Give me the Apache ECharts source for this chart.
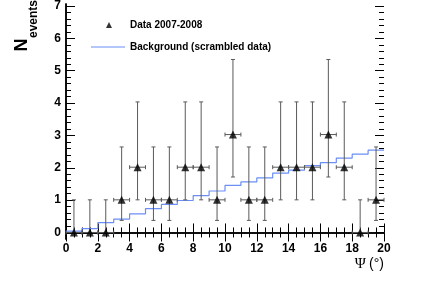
<!DOCTYPE html>
<html>
<head>
<meta charset="utf-8">
<script src="https://cdn.jsdelivr.net/npm/echarts@6/dist/echarts.min.js"></script>
<style>
html,body{margin:0;padding:0;background:#fff;}
#c{width:441px;height:287px;}
</style>
</head>
<body>
<div id="c"></div>
<script>
// Bin centres (Psi, degrees)
var binCenters = [0.5,1.5,2.5,3.5,4.5,5.5,6.5,7.5,8.5,9.5,10.5,11.5,12.5,13.5,14.5,15.5,16.5,17.5,18.5,19.5];
// Observed events per bin
var dataCounts = [0,0,0,1,2,1,1,2,2,1,3,1,1,2,2,2,3,2,0,1];
// Lower and upper ends of the vertical error bars
var errLower = [0,0,0,0.37,1.0,0.37,0.37,1.0,1.0,0.37,1.7,0.37,0.37,1.0,1.0,1.0,1.7,1.0,0,0.37];
var errUpper = [1.0,1.0,1.0,2.62,4.0,2.62,2.62,4.0,4.0,2.62,5.3,2.62,2.62,4.0,4.0,4.0,5.3,4.0,1.0,2.62];
// Background (scrambled data) histogram: bin lower edges and contents
var bgEdges = [0,1,2,3,4,5,6,7,8,9,10,11,12,13,14,15,16,17,18,19,20];
var bgValues = [0.04,0.12,0.30,0.41,0.57,0.73,0.86,0.98,1.13,1.27,1.44,1.55,1.67,1.82,1.91,2.05,2.14,2.28,2.40,2.52];
// Axis ticks
var xTicks = [0,2,4,6,8,10,12,14,16,18,20];
var yTicks = [0,1,2,3,4,5,6,7];

var dataName = 'Data 2007-2008';
var bgName = 'Background (scrambled data)';
var bgColor = '#6b8ff5';

var scatterData = binCenters.map(function(x,i){ return [x, dataCounts[i]]; });
var errData = binCenters.map(function(x,i){ return [x, dataCounts[i], errLower[i], errUpper[i]]; });
var bgData = bgEdges.map(function(x,i){ return [x, bgValues[Math.min(i, bgValues.length-1)]]; });

var labelFont = {color:'#000', fontFamily:'Liberation Sans, Arial, sans-serif', fontWeight:'bold', fontSize:12};
var legendFont = {color:'#000', fontFamily:'Liberation Sans, Arial, sans-serif', fontWeight:'bold', fontSize:10};
var xMin = xTicks[0], xMax = xTicks[xTicks.length-1];
var xInt = xTicks[1]-xTicks[0];
var yMin = yTicks[0], yMax = yTicks[yTicks.length-1];
var yPad = -0.2;

var chart = echarts.init(document.getElementById('c'), null, {renderer:'canvas'});
var frameLine = {show:true, lineStyle:{color:'#000', width:1.5}};
var tick = {show:true, inside:true, length:9, lineStyle:{color:'#000', width:1}};
var minor = function(n){ return {show:true, splitNumber:n, length:5, lineStyle:{color:'#000', width:1}}; };

chart.setOption({
  animation:false,
  backgroundColor:'#fff',
  grid:[
    {left:66, right:57, top:4, height:235},
    {left:66, right:57, top:4, height:235*(yMax-yMin)/(yMax-yPad)}
  ],
  legend:[
    {left:101, top:15, orient:'vertical', itemWidth:6, itemHeight:6, selectedMode:false,
     data:[{name:dataName, icon:'triangle'}],
     textStyle:Object.assign({padding:[0,0,0,13]}, legendFont)},
    {left:86, top:37, orient:'vertical', itemWidth:34, itemHeight:1.2, selectedMode:false,
     data:[{name:bgName, icon:'rect', itemStyle:{color:bgColor}}],
     textStyle:legendFont}
  ],
  xAxis:[
    {type:'value', gridIndex:0, position:'bottom', min:xMin, max:xMax, interval:xInt,
     axisLine:frameLine, axisTick:tick, minorTick:minor(4), splitLine:{show:false},
     axisLabel:Object.assign({margin:4}, labelFont)},
    {type:'value', gridIndex:0, position:'top', min:xMin, max:xMax, interval:xInt,
     axisLine:frameLine, axisTick:tick, minorTick:minor(4), splitLine:{show:false},
     axisLabel:{show:false}},
    {type:'value', gridIndex:1, min:xMin, max:xMax, show:false}
  ],
  yAxis:[
    {type:'value', gridIndex:0, position:'left', min:yPad, max:yMax,
     axisLine:frameLine, axisTick:{show:false}, axisLabel:{show:false}, splitLine:{show:false}},
    {type:'value', gridIndex:0, position:'right', min:yPad, max:yMax,
     axisLine:frameLine, axisTick:{show:false}, axisLabel:{show:false}, splitLine:{show:false}},
    {type:'value', gridIndex:1, position:'left', min:yMin, max:yMax, interval:1,
     axisLine:{show:false}, axisTick:tick, minorTick:minor(5), splitLine:{show:false},
     axisLabel:Object.assign({margin:5}, labelFont)},
    {type:'value', gridIndex:1, position:'right', min:yMin, max:yMax, interval:1,
     axisLine:{show:false}, axisTick:tick, minorTick:minor(5), splitLine:{show:false},
     axisLabel:{show:false}}
  ],
  series:[
    {name:bgName, type:'line', xAxisIndex:0, yAxisIndex:0, step:'end', data:bgData,
     showSymbol:false, symbol:'none', lineStyle:{color:bgColor, width:1.2}, itemStyle:{color:bgColor},
     z:2},
    {name:'errors', type:'custom', xAxisIndex:0, yAxisIndex:0, data:errData, z:3,
     renderItem:function(params, api){
       var x = api.value(0), y = api.value(1), lo = api.value(2), hi = api.value(3);
       var pL = api.coord([x-0.5, y]), pR = api.coord([x+0.5, y]);
       var pLo = api.coord([x, lo]), pHi = api.coord([x, hi]);
       var st = {stroke:'#5a5a5a', lineWidth:1};
       var c = 2;
       function ln(x1,y1,x2,y2){ return {type:'line', shape:{x1:x1,y1:y1,x2:x2,y2:y2}, style:st}; }
       return {type:'group', children:[
         ln(pLo[0], pLo[1], pHi[0], pHi[1]),
         ln(pHi[0]-c, pHi[1], pHi[0]+c, pHi[1]),
         ln(pLo[0]-c, pLo[1], pLo[0]+c, pLo[1]),
         ln(pL[0], pL[1], pR[0], pR[1]),
         ln(pL[0], pL[1]-c, pL[0], pL[1]+c),
         ln(pR[0], pR[1]-c, pR[0], pR[1]+c)
       ]};
     }},
    {name:dataName, type:'scatter', xAxisIndex:0, yAxisIndex:0, data:scatterData,
     symbol:'triangle', symbolSize:8, itemStyle:{color:'#000'}, z:4}
  ],
  graphic:[
    {type:'text', x:22, y:45, rotation:Math.PI/2,
     style:{text:'N', fill:'#000', font:'bold 18px Liberation Sans, Arial, sans-serif', textAlign:'center', textVerticalAlign:'middle'}},
    {type:'text', x:33.5, y:19, rotation:Math.PI/2,
     style:{text:'events', fill:'#000', font:'bold 12px Liberation Sans, Arial, sans-serif', textAlign:'center', textVerticalAlign:'middle'}},
    {type:'text', x:384, y:264,
     style:{text:'{p|\u03A8} {q|(\u00B0)}', fill:'#000', textAlign:'right', textVerticalAlign:'middle',
       rich:{p:{fontFamily:'Liberation Serif, Times New Roman, serif', fontSize:15, fill:'#000'},
             q:{fontFamily:'Liberation Sans, Arial, sans-serif', fontSize:14, fill:'#000'}}}}
  ]
});
</script>
</body>
</html>
